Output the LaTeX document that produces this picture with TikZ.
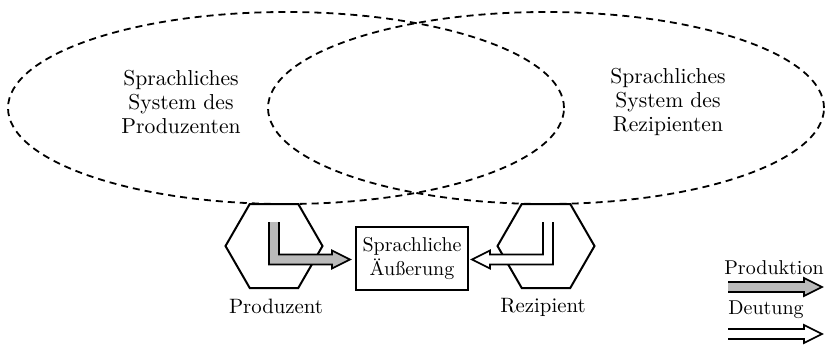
\documentclass[tikz,border=0pt]{standalone}
\usetikzlibrary{shapes.geometric,calc,positioning}

\tikzset{
  sysell/.style={ellipse,draw,dash pattern=on 3.5pt off 2.5pt,line width=0.9pt,
    minimum width=278pt,minimum height=96pt,inner sep=0pt},
  agent/.style={regular polygon,regular polygon sides=6,draw,line width=1pt,
    minimum size=48.5pt,inner sep=0pt},
  utter/.style={draw,line width=1pt,minimum width=56pt,minimum height=31.5pt,
    align=center,inner sep=1pt},
  lbl/.style={align=center,inner sep=0pt,font=\fontsize{10.4}{12}\selectfont},
  syslbl/.style={align=center,inner sep=0pt,font=\fontsize{10.8}{12}\selectfont},
  prodarrow/.style={draw,line width=0.8pt,fill=black!27},
  deutarrow/.style={draw,line width=0.8pt,fill=white},
}

\begin{document}
\begin{tikzpicture}[x=0.5pt,y=-0.5pt]
\useasboundingbox (0,0) rectangle (830,344);

% sprachliche Systeme
\node[sysell] (sysP) at (286,108) {};
\node[sysell] (sysR) at (546,108) {};
\node[syslbl] (txtP) at (181,102) {Sprachliches\\System des\\Produzenten};
\node[syslbl] (txtR) at (668,102) {Sprachliches\\System des\\Rezipienten};

% Produzent, Rezipient, Aeusserung
\node[agent] (prod) at (274,246) {};
\node[agent] (rez) at (546,246) {};
\node[lbl] (prodlbl) at (276,306) {Produzent};
\node[lbl] (rezlbl) at (543,307) {Rezipient};
\node[utter,font=\fontsize{10}{12}\selectfont] (utt) at (412,258.5) {Sprachliche\\Äußerung};

% Produktion
\coordinate (ps) at ($(prod.center)+(0,-24)$);
\coordinate (pt) at ($(utt.west)+(-5,1)$);
\filldraw[prodarrow] ($(ps)+(-5,0)$) |- ($(pt)+(-18,5)$) -- ++(0,4) -- (pt)
  -- ++(-18,-9) -- ++(0,4) -| ($(ps)+(5,0)$);

% Deutung
\coordinate (ds) at ($(rez.center)+(2,-24)$);
\coordinate (dt) at ($(utt.east)+(3,1)$);
\filldraw[deutarrow] ($(ds)+(5,0)$) |- ($(dt)+(18,5)$) -- ++(0,4) -- (dt)
  -- ++(18,-9) -- ++(0,4) -| ($(ds)+(-5,0)$);

% Legende
\node[lbl,font=\fontsize{10}{12}\selectfont] (lgP) at (774,268) {Produktion};
\node[lbl,font=\fontsize{10}{12}\selectfont] (lgD) at (766,310) {Deutung};
\coordinate (la1) at (728,287);
\coordinate (lb1) at (822,287);
\coordinate (la2) at (728,334);
\coordinate (lb2) at (822,334);
\filldraw[prodarrow] ($(la1)+(0,5)$) -- ($(lb1)+(-18,5)$) -- ++(0,4) -- (lb1)
  -- ++(-18,-9) -- ++(0,4) -- ($(la1)+(0,-5)$);
\filldraw[deutarrow] ($(la2)+(0,5)$) -- ($(lb2)+(-18,5)$) -- ++(0,4) -- (lb2)
  -- ++(-18,-9) -- ++(0,4) -- ($(la2)+(0,-5)$);
\end{tikzpicture}
\end{document}
